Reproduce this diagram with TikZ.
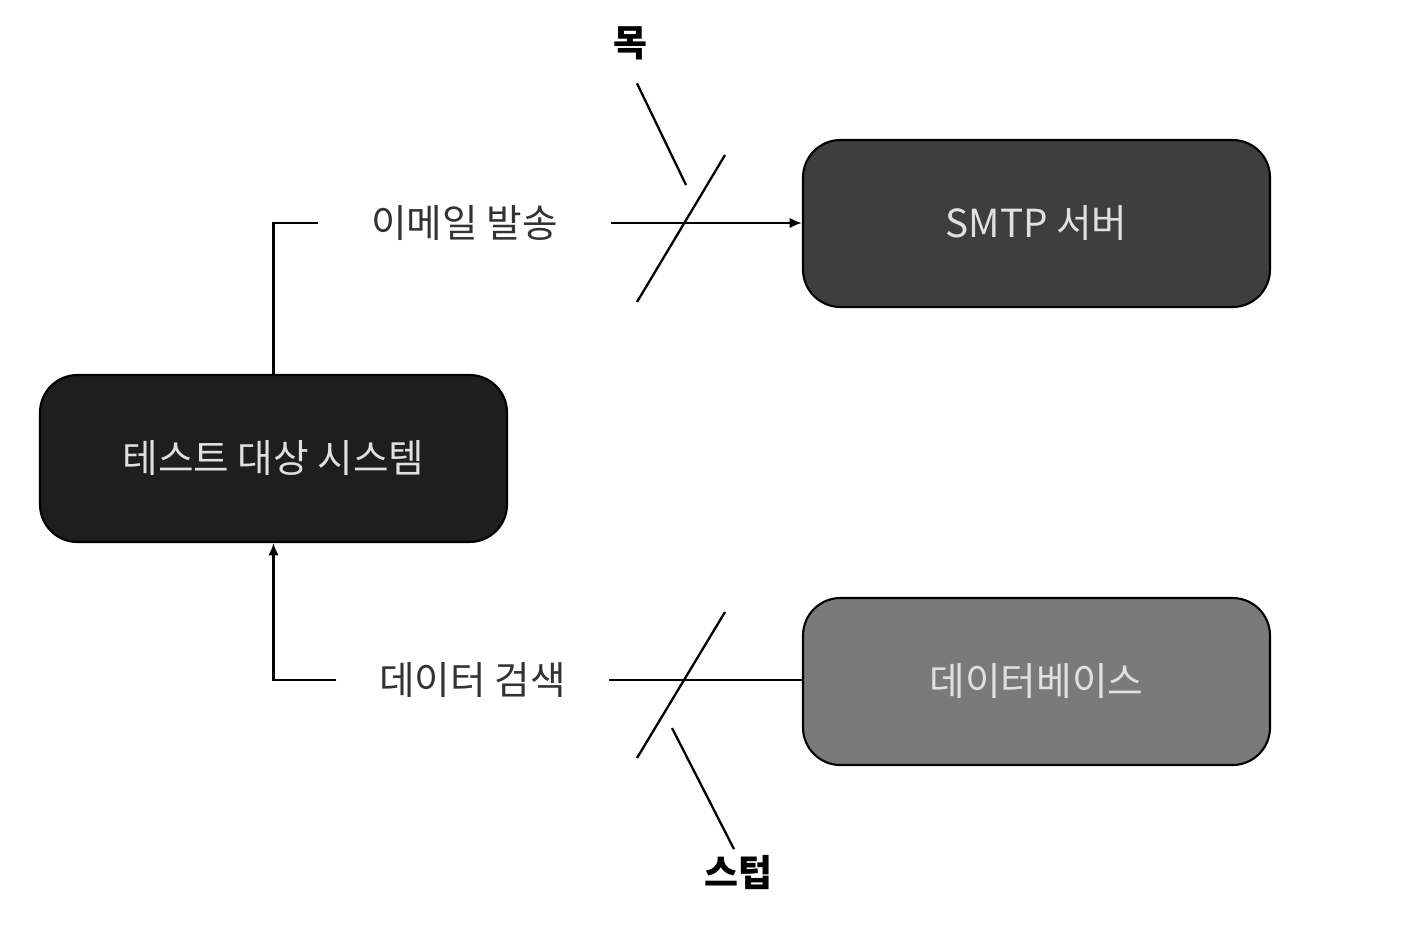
\documentclass[tikz,border=0pt]{standalone}
\usepackage{fontspec}
\setmainfont{Noto Sans CJK KR}
\usepackage{xcolor}
\usetikzlibrary{arrows.meta, positioning, calc}

\definecolor{sutgray}{HTML}{1E1E1E}
\definecolor{smtpgray}{HTML}{3E3E3E}
\definecolor{dbgray}{HTML}{7A7A7A}
\definecolor{labelgray}{HTML}{333333}

\begin{document}
\begin{tikzpicture}[
        system/.style={rectangle, draw=black, line width=1.2pt, rounded corners=0.75cm, minimum width=9.34cm, minimum height=3.34cm, align=center, text=white!88!black, font=\fontsize{22}{26}\selectfont},
        flowlabel/.style={inner xsep=1.05cm, inner ysep=2pt, text=labelgray, font=\fontsize{22}{26}\selectfont},
        double/.style={font=\bfseries\fontsize{21}{25}\selectfont, text=black},
        line/.style={draw, line width=1.3pt},
        arrow/.style={line, -{Latex[length=7pt, width=6pt]}}
    ]
        \useasboundingbox (0,0) rectangle (28.04,-18.52);

        % --- Systems ---
        \node[system, fill=sutgray] (sut) at (5.47, -9.17) {테스트 대상 시스템};
        \node[system, fill=smtpgray] (smtp) at (20.73, -4.47) {SMTP 서버};
        \node[system, fill=dbgray] (db) at (20.73, -13.63) {데이터베이스};

        % --- Flow labels ---
        \node[flowlabel] (send) at (9.29, -4.46) {이메일 발송};
        \node[flowlabel, inner xsep=0.85cm] (fetch) at (9.45, -13.6) {데이터 검색};

        % --- Connections ---
        \draw[line] (sut.north) |- (send.west);
        \draw[arrow] (send.east) -- (smtp.west |- send.east);
        \draw[line] (db.west |- fetch.east) -- (fetch.east);
        \draw[arrow] (fetch.west) -| (sut.south);

        % --- Test doubles ---
        \node[double] (mock) at (12.6, -0.86) {목};
        \node[double] (stub) at (14.76, -17.45) {스텁};

        \coordinate (mocktop) at (14.5, -3.1);
        \coordinate (mockbot) at (12.74, -6.04);
        \coordinate (mocklead) at (13.72, -3.7);
        \coordinate (stubtop) at (14.5, -12.24);
        \coordinate (stubbot) at (12.74, -15.16);
        \coordinate (stublead) at (13.44, -14.56);

        \draw[line] (mocktop) -- (mockbot);
        \draw[line] ($(mock.south)+(0.14,-0.35)$) -- (mocklead);
        \draw[line] (stubtop) -- (stubbot);
        \draw[line] (stublead) -- ($(stub.north)+(-0.08,0)$);

    \end{tikzpicture}
\end{document}
